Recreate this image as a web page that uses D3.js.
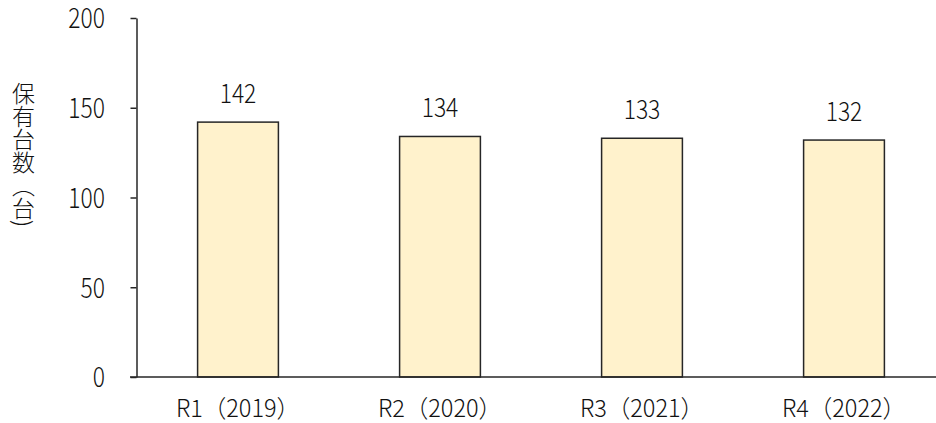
<!DOCTYPE html>
<html><head><meta charset="utf-8">
<script src="https://cdn.jsdelivr.net/npm/d3@7"></script>
<style>
html,body{margin:0;padding:0;background:#fff;}
text{font-family:"Noto Sans CJK JP","Noto Sans",sans-serif;fill:#111;font-weight:300;}
</style></head>
<body><svg id="c" width="936" height="423"></svg>
<script>
const categories = ["R1（2019）","R2（2020）","R3（2021）","R4（2022）"];
const values = [142,134,133,132];
const yTicks = [0,50,100,150,200];
const yTitle = "保有台数（台)";

const svg = d3.select("#c");
const x = d3.scaleBand().domain(categories).range([137,945]).paddingInner(0.6).paddingOuter(0.3);
const y = d3.scaleLinear().domain([0,200]).range([377,18]);

// bars
svg.selectAll("rect.bar").data(values).enter().append("rect")
  .attr("x",(d,i)=>x(categories[i]))
  .attr("y",d=>y(d))
  .attr("width",x.bandwidth())
  .attr("height",d=>y(0)-y(d))
  .attr("fill","#FFF2CC").attr("stroke","#262626").attr("stroke-width",1.5);

// y axis
const TSX = 0.83;
const ya = svg.append("g").attr("transform","translate(136.5,0)")
  .call(d3.axisLeft(y).tickValues(yTicks).tickSize(6).tickSizeOuter(0));
ya.select(".domain").attr("stroke","#262626").attr("stroke-width",1.5);
ya.selectAll(".tick line").attr("stroke","#262626").attr("stroke-width",1.5);
ya.selectAll(".tick text").attr("x",-31.5/TSX).attr("dy","0.36em")
  .attr("transform",`scale(${TSX},1)`).style("font-size","27.5px").attr("font-family",null).attr("fill","#111");

// baseline
svg.append("line").attr("x1",130).attr("x2",x.range()[1]).attr("y1",y(0)).attr("y2",y(0))
  .attr("stroke","#262626").attr("stroke-width",1.5);

// category labels
svg.selectAll("text.cat").data(categories).enter().append("text")
  .attr("class","cat")
  .attr("transform",d=>`translate(${x(d)+x.bandwidth()/2},417) scale(0.98,1)`)
  .attr("text-anchor","middle").style("font-size","24px").text(d=>d);

// value labels
const VSX = 0.88;
svg.selectAll("text.val").data(values).enter().append("text")
  .attr("class","val")
  .attr("transform",(d,i)=>`translate(${x(categories[i])+x.bandwidth()/2},${y(d)-19}) scale(${VSX},1)`)
  .attr("text-anchor","middle").style("font-size","26px").text(d=>d);

// y title
svg.append("text").attr("x",23.5).attr("y",82)
  .style("writing-mode","vertical-rl").style("font-size","23px")
  .attr("text-anchor","start").text(yTitle);
</script></body></html>
